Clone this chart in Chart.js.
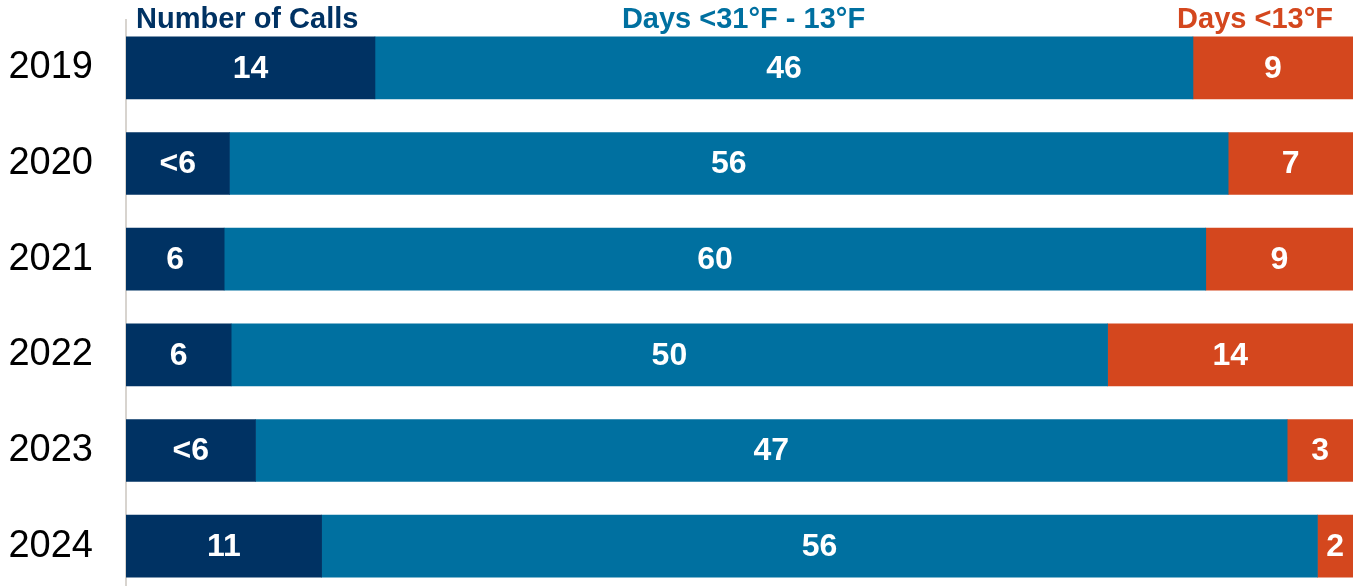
<!DOCTYPE html>
<html>
<head>
<meta charset="utf-8">
<script src="https://cdn.jsdelivr.net/npm/chart.js@4"></script>
<style>
  html, body { margin: 0; padding: 0; background: #fff; overflow: hidden; }
  #wrap { width: 1353px; height: 594px; position: relative; }
</style>
</head>
<body>
<div id="wrap"><canvas id="myChart"></canvas></div>
<script>
const years = ['2019', '2020', '2021', '2022', '2023', '2024'];
const seriesNames = ['Number of Calls', 'Days <31\u00B0F - 13\u00B0F', 'Days <13\u00B0F'];
const calls = [14, 5.8, 6, 6, 5.9, 11];
const callLabels = ['14', '<6', '6', '6', '<6', '11'];
const coldDays = [46, 56, 60, 50, 47, 56];
const coldLabels = ['46', '56', '60', '50', '47', '56'];
const freezeDays = [9, 7, 9, 14, 3, 2];
const freezeLabels = ['9', '7', '9', '14', '3', '2'];
const colors = ['#003263', '#0070A0', '#D4471E'];

const FONT = '"Liberation Sans", Arial, sans-serif';

// each row is shown as share of its own total
const totals = years.map((y, i) => calls[i] + coldDays[i] + freezeDays[i]);
const pct = arr => arr.map((v, i) => v / totals[i] * 100);

const chartData = {
  labels: years,
  datasets: [
    { label: seriesNames[0], data: pct(calls), shown: callLabels, backgroundColor: colors[0] },
    { label: seriesNames[1], data: pct(coldDays), shown: coldLabels, backgroundColor: colors[1] },
    { label: seriesNames[2], data: pct(freezeDays), shown: freezeLabels, backgroundColor: colors[2] }
  ]
};

const barText = {
  id: 'barText',
  afterDatasetsDraw(chart) {
    const ctx = chart.ctx;
    ctx.save();
    ctx.fillStyle = '#fff';
    ctx.font = 'bold 32px ' + FONT;
    ctx.textAlign = 'center';
    ctx.textBaseline = 'middle';
    chart.data.datasets.forEach((ds, di) => {
      chart.getDatasetMeta(di).data.forEach((bar, i) => {
        ctx.fillText(ds.shown[i], (bar.x + bar.base) / 2, bar.y + 1);
      });
    });
    ctx.restore();
  }
};

const headers = {
  id: 'headers',
  afterDraw(chart) {
    const ctx = chart.ctx;
    const a = chart.chartArea;
    ctx.save();
    ctx.font = 'bold 29px ' + FONT;
    ctx.textBaseline = 'alphabetic';
    ctx.fillStyle = colors[0];
    ctx.textAlign = 'left';
    ctx.fillText(seriesNames[0], a.left + 10, 28);
    ctx.fillStyle = colors[1];
    ctx.textAlign = 'center';
    ctx.fillText(seriesNames[1], (a.left + a.right) / 2 + 4, 28);
    ctx.fillStyle = colors[2];
    ctx.textAlign = 'right';
    ctx.fillText(seriesNames[2], a.right - 20, 28);
    ctx.restore();
  }
};

const ctx = document.getElementById('myChart').getContext('2d');
const myChart = new Chart(ctx, {
  type: 'bar',
  data: chartData,
  options: {
    indexAxis: 'y',
    responsive: true,
    maintainAspectRatio: false,
    animation: false,
    layout: { padding: { top: 20, right: 0, bottom: 0, left: 0 } },
    datasets: { bar: { barThickness: 62, borderWidth: 0 } },
    plugins: {
      legend: { display: false },
      tooltip: { enabled: false }
    },
    scales: {
      x: {
        stacked: true,
        min: 0,
        max: 100,
        display: false
      },
      y: {
        stacked: true,
        grid: { display: false, drawTicks: false },
        border: { display: true, color: '#D8D4CF', width: 2 },
        ticks: {
          color: '#000',
          padding: 33,
          font: { family: FONT, size: 38 }
        },
        afterFit(scale) {
          scale.width = 126;
          scale.paddingTop = 0;
          scale.paddingBottom = 0;
        }
      }
    }
  },
  plugins: [barText, headers]
});
</script>
</body>
</html>
